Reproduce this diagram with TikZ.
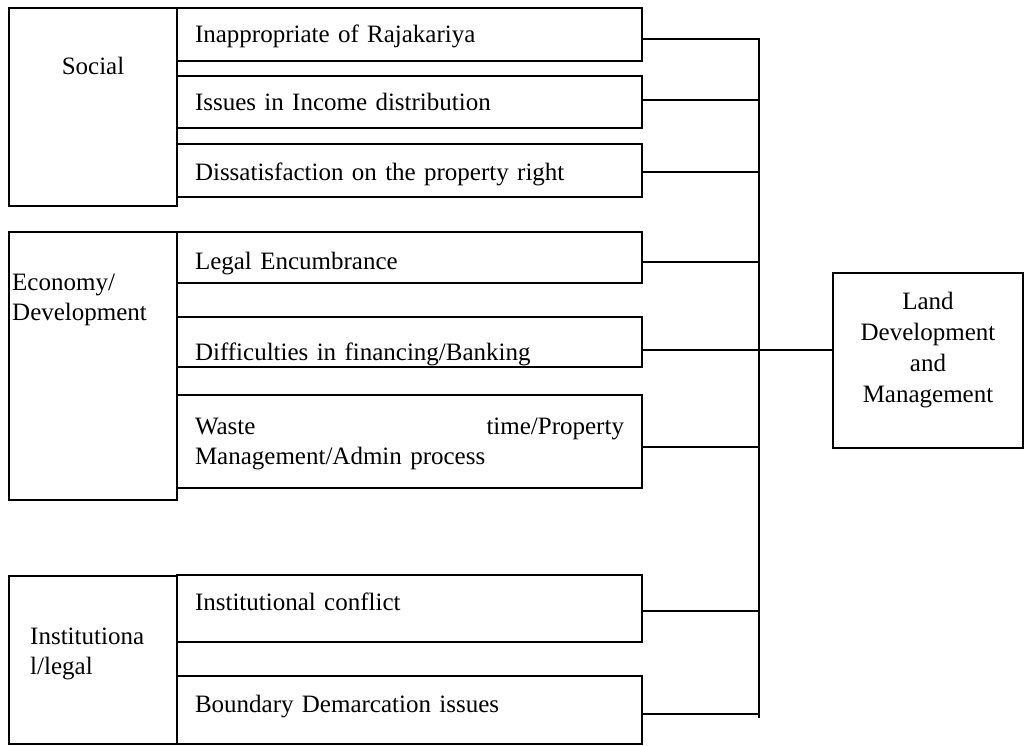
\documentclass[tikz,border=0pt]{standalone}
\usepackage{fontspec}
\setmainfont{Liberation Serif}
\begin{document}
\begin{tikzpicture}[x=1pt,y=-1pt,
  every node/.style={font=\fontsize{25}{30}\selectfont},
  box/.style={draw, line width=2.3pt, rectangle, inner sep=0pt},
  item/.style={box, minimum width=465pt, text width=429pt, inner xsep=18pt, inner ysep=0pt, align=left, text depth=6pt},
  th/.style={text height=#1},
  cat/.style={box, minimum width=168pt},
  lbl/.style={inner sep=0pt, anchor=base west, text width=160pt, align=left},
  wire/.style={line width=2.6pt}]
\useasboundingbox (0,0) rectangle (1026,745);

% category boxes
\node[cat, minimum height=198pt] (soc) at (93,107) {};
\node[cat, minimum height=268pt] (eco) at (93,366) {};
\node[cat, minimum height=168pt] (ins) at (93,660) {};
\node[inner sep=0pt, anchor=base] (socT) at (93,74) {Social};
\node[lbl] (ecoT) at (12,290) {Economy/\\Development};
\node[lbl] (insT) at (30,644) {Institutiona\\l/legal};

% item boxes
\node[item, minimum height=53pt, th=21pt] (b1) at (409.5,34.5) {Inappropriate of Rajakariya};
\node[item, minimum height=52pt, th=22pt] (b2) at (409.5,102) {Issues in Income distribution};
\node[item, minimum height=53pt, th=25pt] (b3) at (409.5,170.5) {Dissatisfaction on the property right};
\node[item, minimum height=51pt, th=29pt] (b4) at (409.5,257.5) {Legal Encumbrance};
\node[item, minimum height=50pt, th=42pt] (b5) at (409.5,342) {Difficulties in financing/Banking};
\node[item, minimum height=93pt, th=21pt, text depth=36pt] (b6) at (409.5,441.5) {\makebox[429pt][l]{Waste\hfill time/Property}\\Management/Admin process};
\node[item, minimum height=67pt, th=9pt] (b7) at (409.5,608.5) {Institutional conflict};
\node[item, minimum height=68pt, th=10pt] (b8) at (409.5,710) {Boundary Demarcation issues};

% target box
\node[box, minimum width=190pt, minimum height=175pt, text width=190pt, align=center,
      text height=17pt, text depth=120pt, font=\fontsize{25}{31}\selectfont] (land) at (928,360.5)
      {Land\\Development\\and\\Management};

% bus junctions
\coordinate (j1) at (759,39);
\coordinate (j2) at (759,100);
\coordinate (j3) at (759,172);
\coordinate (j4) at (759,262);
\coordinate (j5) at (759,350);
\coordinate (j6) at (759,447);
\coordinate (j7) at (759,611);
\coordinate (j8) at (759,714);
\coordinate (jend) at (759,718);

\draw[wire] (b1.east |- j1) -- (j1) -- (jend);
\draw[wire] (b2.east |- j2) -- (j2);
\draw[wire] (b3.east |- j3) -- (j3);
\draw[wire] (b4.east |- j4) -- (j4);
\draw[wire] (b5.east |- j5) -- (j5);
\draw[wire] (b6.east |- j6) -- (j6);
\draw[wire] (b7.east |- j7) -- (j7);
\draw[wire] (b8.east |- j8) -- (j8);
\draw[wire] (j5) -- (land.west |- j5);
\end{tikzpicture}
\end{document}
